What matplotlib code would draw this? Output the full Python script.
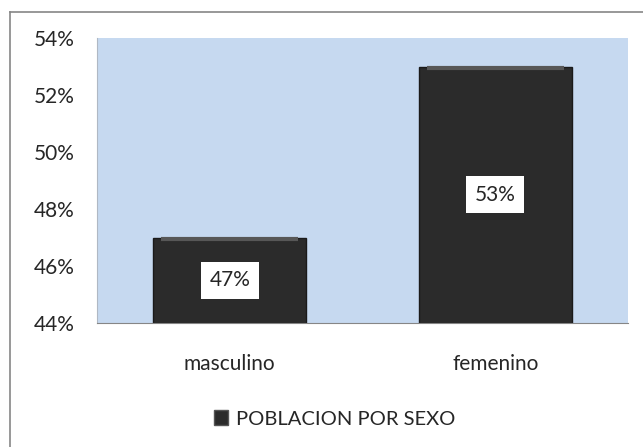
import matplotlib
matplotlib.use("Agg")
import matplotlib.pyplot as plt
import matplotlib.patches as mpatches
from matplotlib.lines import Line2D
from matplotlib.ticker import FuncFormatter, MultipleLocator

CATEGORIES = ["masculino", "femenino"]
VALUES = [0.47, 0.53]
LABELS = ["47%", "53%"]
SERIES_NAME = "POBLACION POR SEXO"
Y_MIN, Y_MAX, Y_STEP = 0.44, 0.54, 0.02

plt.rcParams["font.family"] = ["Lato", "DejaVu Sans"]

W, H = 643, 447
fig = plt.figure(figsize=(W / 100, H / 100), dpi=100)
fig.patch.set_facecolor("white")

ax = fig.add_axes([97 / W, 1 - 323 / H, (628 - 97) / W, (323 - 38) / H])
ax.set_facecolor("#c6d9f0")

x = range(len(CATEGORIES))
bars = ax.bar(x, [v - Y_MIN for v in VALUES], bottom=Y_MIN, width=0.576,
              color="#2b2b2b", edgecolor="#1a1a1a", linewidth=1, zorder=3)

# soft bevel highlight along the top of each bar
for bar in bars:
    x0 = bar.get_x()
    w = bar.get_width()
    top = bar.get_y() + bar.get_height()
    ax.plot([x0 + 0.03, x0 + w - 0.03], [top - 0.0006, top - 0.0006],
            color="#575757", linewidth=3, zorder=4, solid_capstyle="butt")

for bar, lab in zip(bars, LABELS):
    ax.text(bar.get_x() + bar.get_width() / 2,
            bar.get_y() + bar.get_height() / 2,
            lab, ha="center", va="center", fontsize=15, color="#262626",
            zorder=5,
            bbox=dict(boxstyle="square,pad=0.4", facecolor="white",
                      edgecolor="none"))

ax.set_xlim(-0.5, len(CATEGORIES) - 0.5)
ax.set_ylim(Y_MIN, Y_MAX)
ax.yaxis.set_major_locator(MultipleLocator(Y_STEP))
ax.yaxis.set_major_formatter(FuncFormatter(lambda v, p: f"{round(v * 100)}%"))
ax.set_xticks(list(x))
ax.set_xticklabels(CATEGORIES)
ax.tick_params(axis="y", length=0, pad=16, labelsize=15, labelcolor="#262626")
ax.tick_params(axis="x", length=0, pad=22, labelsize=15, labelcolor="#262626")

for side in ("top", "right"):
    ax.spines[side].set_visible(False)
ax.spines["left"].set_color("#b0b8c4")
ax.spines["bottom"].set_color("#868686")
ax.spines["bottom"].set_zorder(6)

handle = mpatches.Patch(facecolor="#2b2b2b", edgecolor="#555555", label=SERIES_NAME)
fig.legend(handles=[handle], loc="center", bbox_to_anchor=(0.52, 1 - 419 / H),
           frameon=False, fontsize=14.5, handlelength=0.7, handleheight=0.7,
           handletextpad=0.4, labelcolor="#262626")

# chart frame (only left and top edges fall inside the picture)
fig.add_artist(Line2D([9.5 / W, 9.5 / W], [0, 1 - 12 / H], color="#868686", lw=1.2))
fig.add_artist(Line2D([9.5 / W, 1], [1 - 12 / H, 1 - 12 / H], color="#868686", lw=1.2))

fig.savefig("out.png", dpi=100, facecolor=fig.get_facecolor())
plt.close(fig)
